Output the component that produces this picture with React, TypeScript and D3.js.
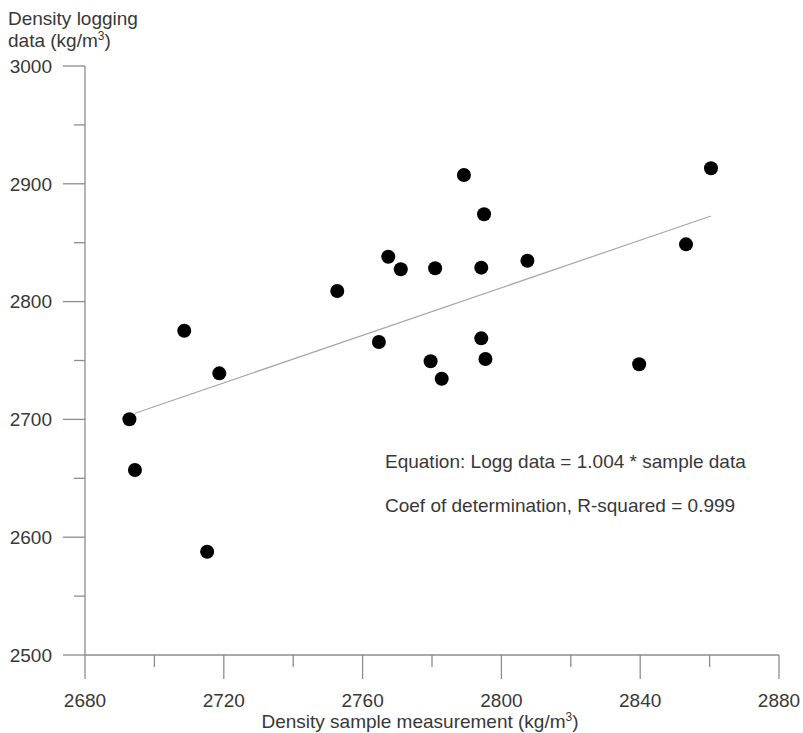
import React from 'react';
import * as d3 from 'd3';

// sample measurement vs logging density (kg/m3)
const sampleDensity = [
  2692.8, 2694.4, 2715.2, 2708.6, 2718.7, 2752.7, 2764.7, 2767.4, 2771.0, 2780.9, 2779.6,
  2782.8, 2789.2, 2794.2, 2795.0, 2794.2, 2795.4, 2807.5, 2839.7, 2853.2, 2860.4,
];
const loggingDensity = [
  2700.1, 2657.0, 2587.7, 2775.3, 2739.1, 2809.0, 2765.7, 2838.1, 2827.4, 2828.3, 2749.3,
  2734.5, 2907.5, 2828.8, 2874.1, 2768.8, 2751.3, 2834.7, 2746.8, 2848.6, 2913.2,
];

// fitted trend line end points
const fitX = [2694.4, 2860.4];
const fitY = [2705.2, 2872.7];

const xMajor = [2680, 2720, 2760, 2800, 2840, 2880];
const xMinor = [2700, 2740, 2780, 2820, 2860];
const yMajor = [2500, 2600, 2700, 2800, 2900, 3000];
const yMinor = [2550, 2650, 2750, 2850, 2950];

const equationText = 'Equation: Logg data = 1.004 * sample data';
const r2Text = 'Coef of determination, R-squared = 0.999';

const App = () => {
  const Width = 803;
  const Height = 733;
  const font = '"Liberation Sans", Arial, sans-serif';
  const textColor = '#383838';
  const axisColor = '#8c8c8c';
  const fs = 19;

  const xScale = d3.scaleLinear().domain([2680, 2880]).range([85, 779]);
  const yScale = d3.scaleLinear().domain([2500, 3000]).range([655, 66]);

  const x0 = xScale(2680);
  const y0 = yScale(2500);

  const line = d3
    .line<number>()
    .x((d) => xScale(d))
    .y((d, i) => yScale(fitY[i]));

  const points = sampleDensity.map((d, i) => (
    <circle key={i} cx={xScale(d)} cy={yScale(loggingDensity[i])} r={7} fill="#000" />
  ));

  return (
    <svg
      width={Width}
      height={Height}
      style={{ position: 'absolute', left: 0, top: 0, background: '#fff' }}
      fontFamily={font}
    >
      <rect width={Width} height={Height} fill="#fff" />

      {/* y axis */}
      <line x1={x0} x2={x0} y1={yScale(3000)} y2={y0} stroke={axisColor} strokeWidth={1.3} />
      {yMajor.map((v) => (
        <g key={v}>
          <line x1={x0 - 22} x2={x0} y1={yScale(v)} y2={yScale(v)} stroke={axisColor} strokeWidth={1.3} />
          <text x={x0 - 33} y={yScale(v)} dy="0.36em" textAnchor="end" fontSize={fs} fill={textColor}>
            {v}
          </text>
        </g>
      ))}
      {yMinor.map((v) => (
        <line key={v} x1={x0 - 11} x2={x0} y1={yScale(v)} y2={yScale(v)} stroke={axisColor} strokeWidth={1.3} />
      ))}

      {/* x axis */}
      <line x1={x0} x2={xScale(2880)} y1={y0} y2={y0} stroke={axisColor} strokeWidth={1.3} />
      {xMajor.map((v) => (
        <g key={v}>
          <line x1={xScale(v)} x2={xScale(v)} y1={y0} y2={y0 + 24} stroke={axisColor} strokeWidth={1.3} />
          <text x={xScale(v)} y={707} textAnchor="middle" fontSize={fs} fill={textColor}>
            {v}
          </text>
        </g>
      ))}
      {xMinor.map((v) => (
        <line key={v} x1={xScale(v)} x2={xScale(v)} y1={y0} y2={y0 + 12} stroke={axisColor} strokeWidth={1.3} />
      ))}

      {/* axis titles */}
      <text x={8} y={25} fontSize={fs} fill={textColor}>Density logging</text>
      <text x={8} y={47} fontSize={fs} fill={textColor}>
        data (kg/m<tspan fontSize={12} dy={-7}>3</tspan><tspan dy={7}>)</tspan>
      </text>
      <text x={420} y={728} textAnchor="middle" fontSize={fs} fill={textColor}>
        Density sample measurement (kg/m<tspan fontSize={12} dy={-7}>3</tspan><tspan dy={7}>)</tspan>
      </text>

      {/* trend line */}
      <path d={line(fitX) || ''} fill="none" stroke="#a8a8a8" strokeWidth={1.2} />

      {points}

      <text x={385} y={468} fontSize={fs} fill={textColor}>{equationText}</text>
      <text x={385} y={512} fontSize={fs} fill={textColor}>{r2Text}</text>
    </svg>
  );
};

export default App;
